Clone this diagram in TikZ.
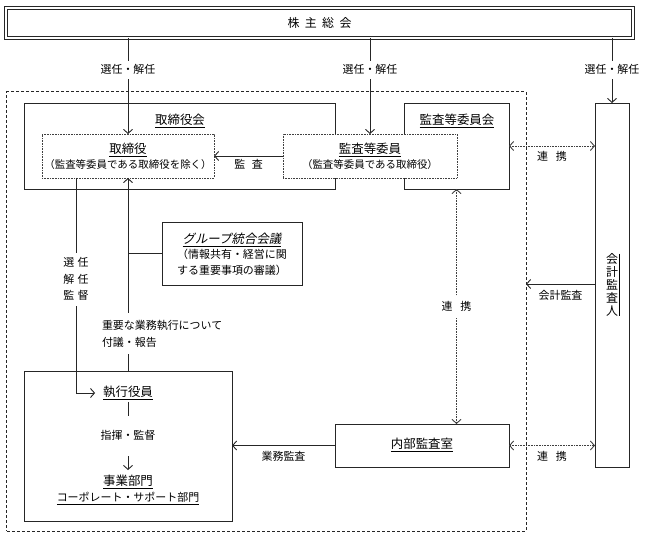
\documentclass[tikz,border=0pt]{standalone}
\usepackage{fontspec}
\setmainfont{Noto Sans CJK JP}
\newfontfamily\jpsl[FakeSlant=0.2]{Noto Sans CJK JP}
\usetikzlibrary{arrows.meta,calc}
\begin{document}
\begin{tikzpicture}[x=1bp,y=-1bp,
  every node/.style={inner sep=0pt, outer sep=0pt},
  box/.style={draw=black!85, line width=0.9bp, rectangle, fill=white},
  dotbox/.style={draw=black!75, line width=0.8bp, dash pattern=on 0.8bp off 0.8bp, fill=white, rectangle},
  ln/.style={draw=black!85, line width=0.9bp},
  dotln/.style={draw=black!75, line width=0.8bp, dash pattern=on 0.8bp off 0.8bp},
  txt/.style={text height=0.88em, text depth=0.12em},
  head/.style={txt, font=\fontsize{12.5}{15}\selectfont},
  lbl/.style={txt, font=\fontsize{11}{13}\selectfont},
  sml/.style={txt, font=\fontsize{10.5}{13}\selectfont},
  gap/.style={lbl, fill=white, inner xsep=1.5bp, inner ysep=4bp},
  >={Straight Barb[length=4bp,width=9bp,line width=0.9bp]},
]
\useasboundingbox (0,0) rectangle (645,538);
% outer dashed region
\node[draw=black!85, line width=1bp, dash pattern=on 3bp off 2bp, minimum width=519bp, minimum height=439bp] (org) at (266.5,311.5) {};
% shareholders meeting
\node[box, double, double distance=1.8bp, minimum width=627bp, minimum height=30bp, font=\fontsize{12}{14}\selectfont] (gm) at (319.5,23) {株\hspace{0.45em}主\hspace{0.45em}総\hspace{0.45em}会};
% boxes
\node[box, minimum width=311bp, minimum height=86bp] (bod) at (179.5,146) {};
\node[box, minimum width=105bp, minimum height=86bp] (acb) at (456.5,146) {};
\node[dotbox, minimum width=172bp, minimum height=44bp] (dir) at (128,156) {};
\node[dotbox, minimum width=174bp, minimum height=44bp] (acm) at (370,156) {};
\node[box, minimum width=140bp, minimum height=63bp] (grp) at (232,253.5) {};
\node[box, minimum width=208bp, minimum height=150bp] (exe) at (128,446) {};
\node[box, minimum width=174bp, minimum height=43bp] (ias) at (422,445.5) {};
\node[box, minimum width=34bp, minimum height=364bp] (aud) at (612,285) {};
% texts
\node[head] (bodt) at (180,121) {\underline{取締役会}};
\node[head] (acbt) at (457,121) {\underline{監査等委員会}};
\node[head] (dirt) at (128,150) {\underline{取締役}};
\node[sml] (dirs) at (128,165) {（監査等委員である取締役を除く）};
\node[head] (acmt) at (370,150) {\underline{監査等委員}};
\node[sml] (acms) at (370,165) {（監査等委員である取締役）};
\node[head, font=\fontsize{12.5}{15}\jpsl] (grpt) at (232,240) {\underline{グループ統合会議}};
\node[lbl] (grp1) at (232,255) {（情報共有・経営に関};
\node[lbl] (grp2) at (232,271) {する重要事項の審議）};
\node[head] (exet) at (128,393) {\underline{執行役員}};
\node[head] (bizt) at (128,482) {\underline{事業部門}};
\node[lbl] (corp) at (128,498) {\underline{コーポレート・サポート部門}};
\node[head] (iast) at (422,445) {\underline{内部監査室}};
\node[align=center, font=\fontsize{12}{13}\selectfont] (audt) at (612,285) {会\\計\\監\\査\\人};
\draw[line width=0.6bp] ([xshift=1bp]audt.north east) -- ([xshift=1bp]audt.south east);
% appointment arrows from shareholders meeting
\draw[ln,->] (gm.south -| dir.north) -- (dir.north) node[gap, pos=0.333] {選任・解任};
\draw[ln,->] (gm.south -| acm.north) -- (acm.north) node[gap, pos=0.333] {選任・解任};
\draw[ln,->] (gm.south -| aud.north) -- (aud.north) node[gap, pos=0.49] {選任・解任};
% audit by committee members
\draw[ln,->] (acm.west) -- (dir.east) node[midway, below=3.5bp, lbl] {監\hspace{0.6em}査};
% appointment / supervision of executive officers
\coordinate (sk) at (76,0 |- dir.south);
\draw[ln,->] (sk) -- node[pos=0.47, fill=white, align=center, font=\fontsize{11}{16.5}\selectfont, inner xsep=1.5bp, inner ysep=5bp] {選\hspace{0.3em}任\\解\hspace{0.3em}任\\監\hspace{0.3em}督} (sk |- exet.west) -- ([xshift=-8bp]exet.west);
% reporting to board
\draw[ln,->] (exe.north) -- (dir.south);
\node[fill=white, align=left, font=\fontsize{11}{17}\selectfont, anchor=west, inner xsep=1bp, inner ysep=7bp] (fg) at (101,333.5) {重要な業務執行について\\付議・報告};
\coordinate (gj) at (exe.north |- grp.west);
\draw[ln] (gj) -- (grp.west);
% command
\draw[ln,->] ([yshift=-4bp]exet.south) -- ([yshift=7bp]bizt.north) node[midway, gap, inner ysep=15bp] {指揮・監督};
% internal audit
\draw[ln,->] (ias.west) -- (exe.east |- ias.west) node[midway, below=6.5bp, lbl] {業務監査};
% accounting audit
\coordinate (ka) at (aud.west |- 0,284);
\draw[ln,->] (ka) -- (org.east |- ka) node[midway, below=7bp, lbl] {会計監査};
% cooperation
\draw[dotln,<->] (acb.east) -- (aud.west |- acb.east) node[midway, below=5.5bp, lbl] {連\hspace{0.7em}携};
\draw[dotln,<->] (acb.south) -- (acb.south |- ias.north) node[midway, gap, inner ysep=6bp] {連\hspace{0.7em}携};
\draw[dotln,<->] (ias.east) -- (aud.west |- ias.east) node[midway, below=6.5bp, lbl] {連\hspace{0.7em}携};
\end{tikzpicture}
\end{document}
